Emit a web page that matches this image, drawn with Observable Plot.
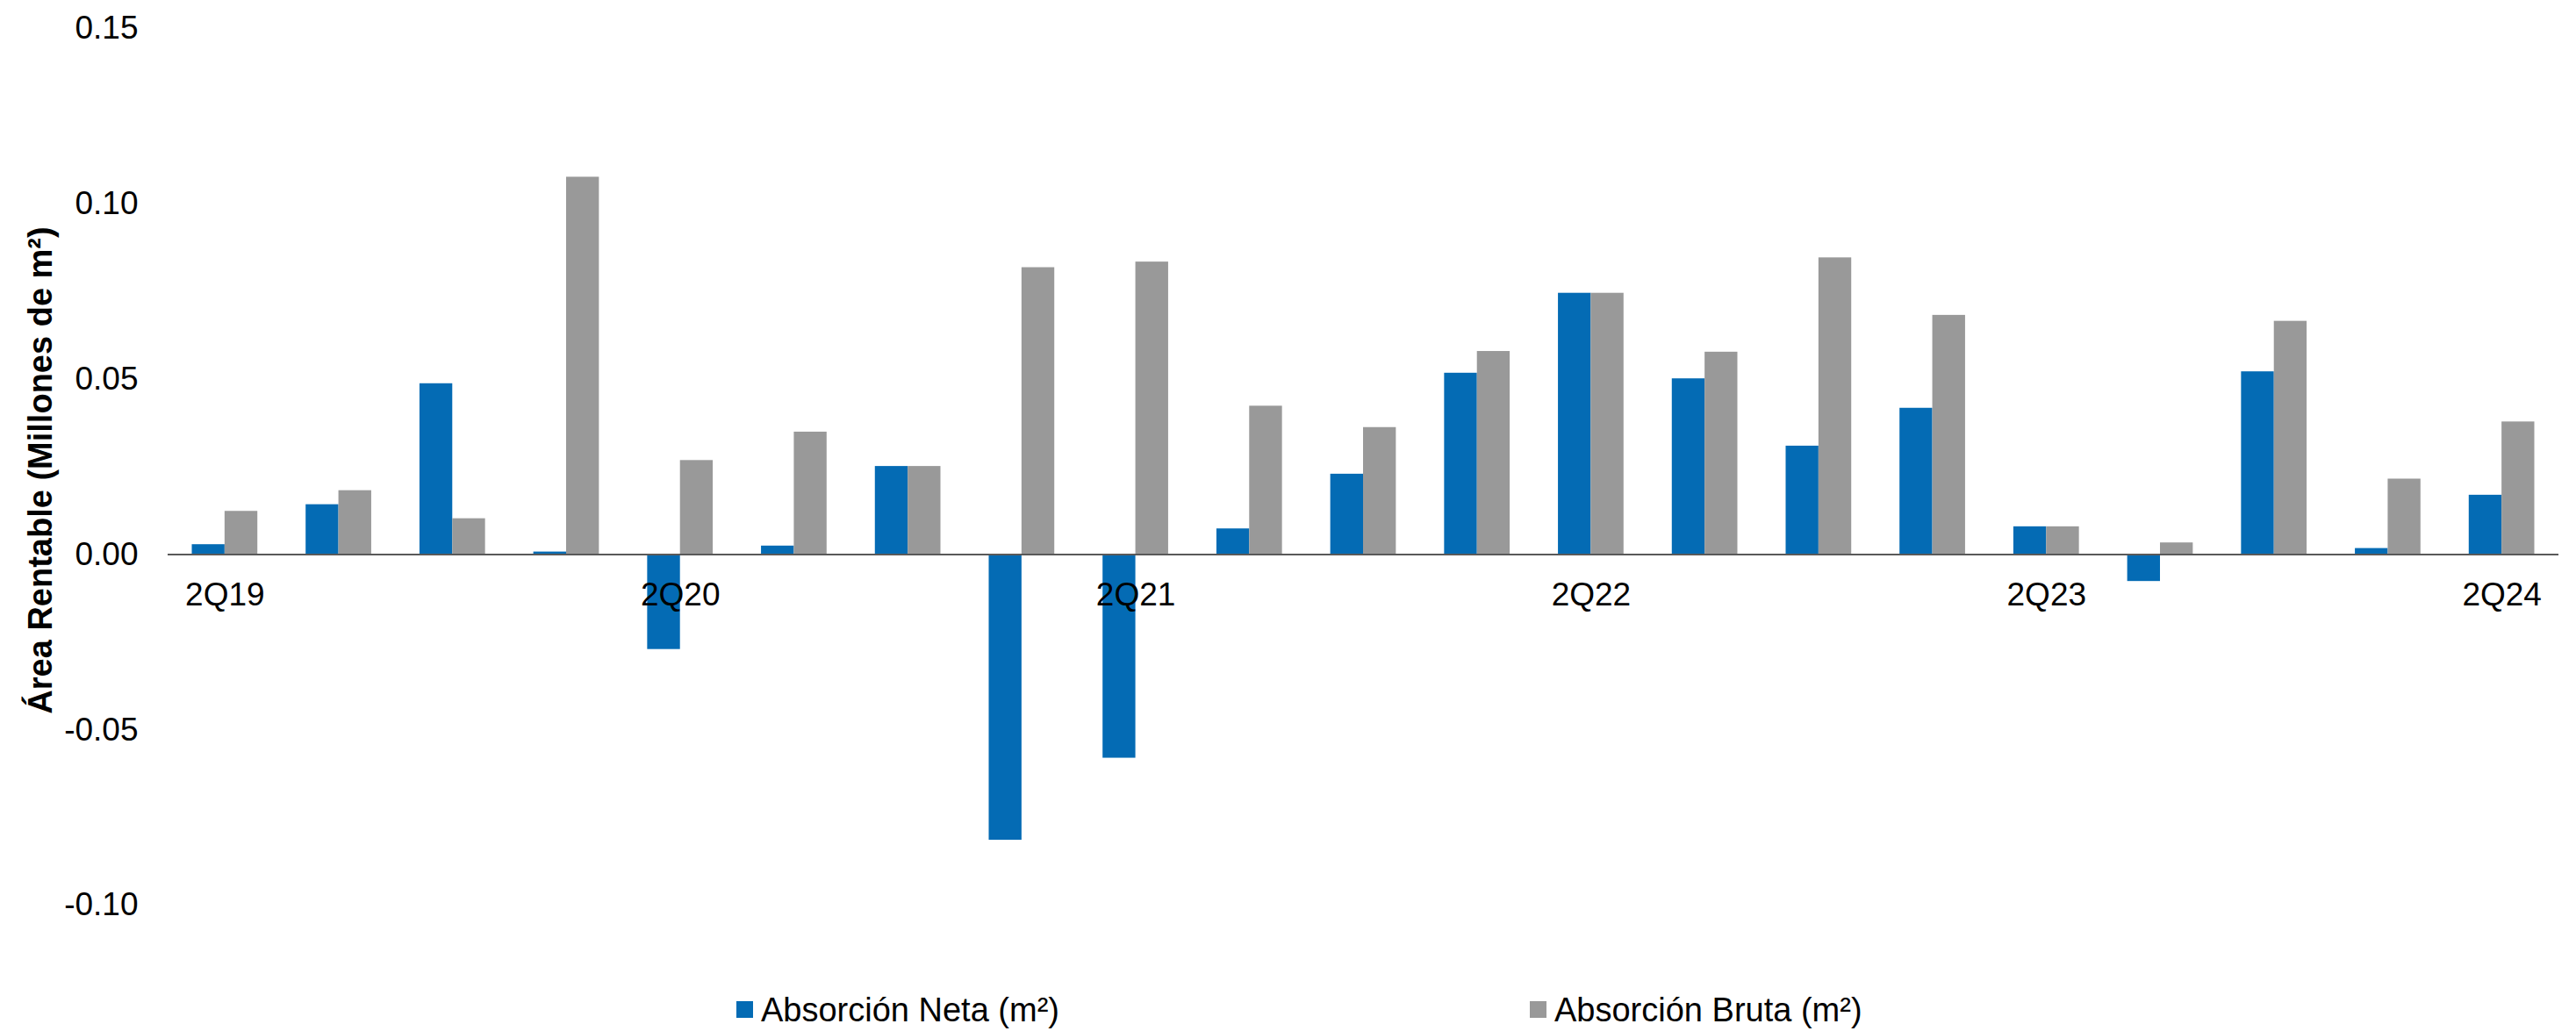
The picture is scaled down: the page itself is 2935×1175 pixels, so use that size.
<!DOCTYPE html>
<html>
<head>
<meta charset="utf-8">
<script src="https://cdn.jsdelivr.net/npm/d3@7"></script>
<script src="https://cdn.jsdelivr.net/npm/@observablehq/plot@0.6"></script>
<style>
  html, body { margin: 0; padding: 0; background: #fff; }
  body { font-family: "Liberation Sans", Arial, sans-serif; }
  #legend { position: relative; width: 2935px; height: 115px; }
  .sw { position: absolute; width: 19px; height: 19px; }
  .lt { position: absolute; font-size: 38px; line-height: 38px; color: #000; white-space: nowrap; }
</style>
</head>
<body>
<div id="chart"></div>
<div id="legend"></div>
<script>
const quarters = ["2Q19","3Q19","4Q19","1Q20","2Q20","3Q20","4Q20","1Q21","2Q21","3Q21","4Q21",
  "1Q22","2Q22","3Q22","4Q22","1Q23","2Q23","3Q23","4Q23","1Q24","2Q24"];
const neta  = [0.0028, 0.0142, 0.0487, 0.0007, -0.0271, 0.0024, 0.0251, -0.0815, -0.0581, 0.0073, 0.0229,
  0.0517, 0.0745, 0.0501, 0.0309, 0.0417, 0.0079, -0.0077, 0.0521, 0.0017, 0.0169];
const bruta = [0.0123, 0.0182, 0.0102, 0.1076, 0.0268, 0.0349, 0.0251, 0.0818, 0.0834, 0.0423, 0.0362,
  0.0579, 0.0745, 0.0577, 0.0846, 0.0682, 0.0079, 0.0033, 0.0665, 0.0215, 0.0378];
const tickLabels = ["2Q19","2Q20","2Q21","2Q22","2Q23","2Q24"];
const yTicks = [-0.10, -0.05, 0.00, 0.05, 0.10, 0.15];
const seriesNames = ["Absorción Neta (m²)", "Absorción Bruta (m²)"];
const seriesColors = ["#046BB4", "#999999"];
const yTitle = "Área Rentable (Millones de m²)";

const data = quarters.map((q, i) => ({q, neta: neta[i], bruta: bruta[i]}));

const W = 2935, H = 1060;
const mL = 191, mR = 20, mT = 32, mB = 29;
const padIn = 0.424;
const step = (W - mL - mR) / quarters.length;
const half = step * (1 - padIn) / 2;
const fmt = d => d.toFixed(2);

const chart = Plot.plot({
  width: W, height: H,
  marginLeft: mL, marginRight: mR, marginTop: mT, marginBottom: mB,
  style: {fontFamily: '"Liberation Sans", Arial, sans-serif', fontSize: "37px", color: "#000", background: "#fff"},
  x: {domain: quarters, paddingInner: padIn, paddingOuter: padIn / 2, round: false, axis: null},
  y: {domain: [-0.10, 0.15], axis: null},
  marks: [
    Plot.axisY({ticks: yTicks, tickFormat: fmt, tickSize: 0, tickPadding: 34, fontSize: 37, label: null}),
    Plot.barY(data, {x: "q", y: "neta", fill: seriesColors[0], insetRight: half}),
    Plot.barY(data, {x: "q", y: "bruta", fill: seriesColors[1], insetLeft: half}),
    Plot.ruleY([0], {stroke: "#595959", strokeWidth: 2}),
    Plot.text(tickLabels, {x: d => d, y: () => 0, dy: 46, fontSize: 37, fill: "#000"}),
    Plot.text([yTitle], {frameAnchor: "left", textAnchor: "middle", rotate: -90, dx: -145, dy: 4, fontSize: 38, fontWeight: "bold", fill: "#000"})
  ]
});
document.getElementById("chart").appendChild(chart);

const legend = document.getElementById("legend");
const legendX = [839, 1743];
seriesNames.forEach((name, i) => {
  const sw = document.createElement("div");
  sw.className = "sw";
  sw.style.left = legendX[i] + "px";
  sw.style.top = "81px";
  sw.style.background = seriesColors[i];
  legend.appendChild(sw);
  const t = document.createElement("div");
  t.className = "lt";
  t.style.left = (legendX[i] + 28) + "px";
  t.style.top = "72px";
  t.textContent = name;
  legend.appendChild(t);
});
</script>
</body>
</html>
